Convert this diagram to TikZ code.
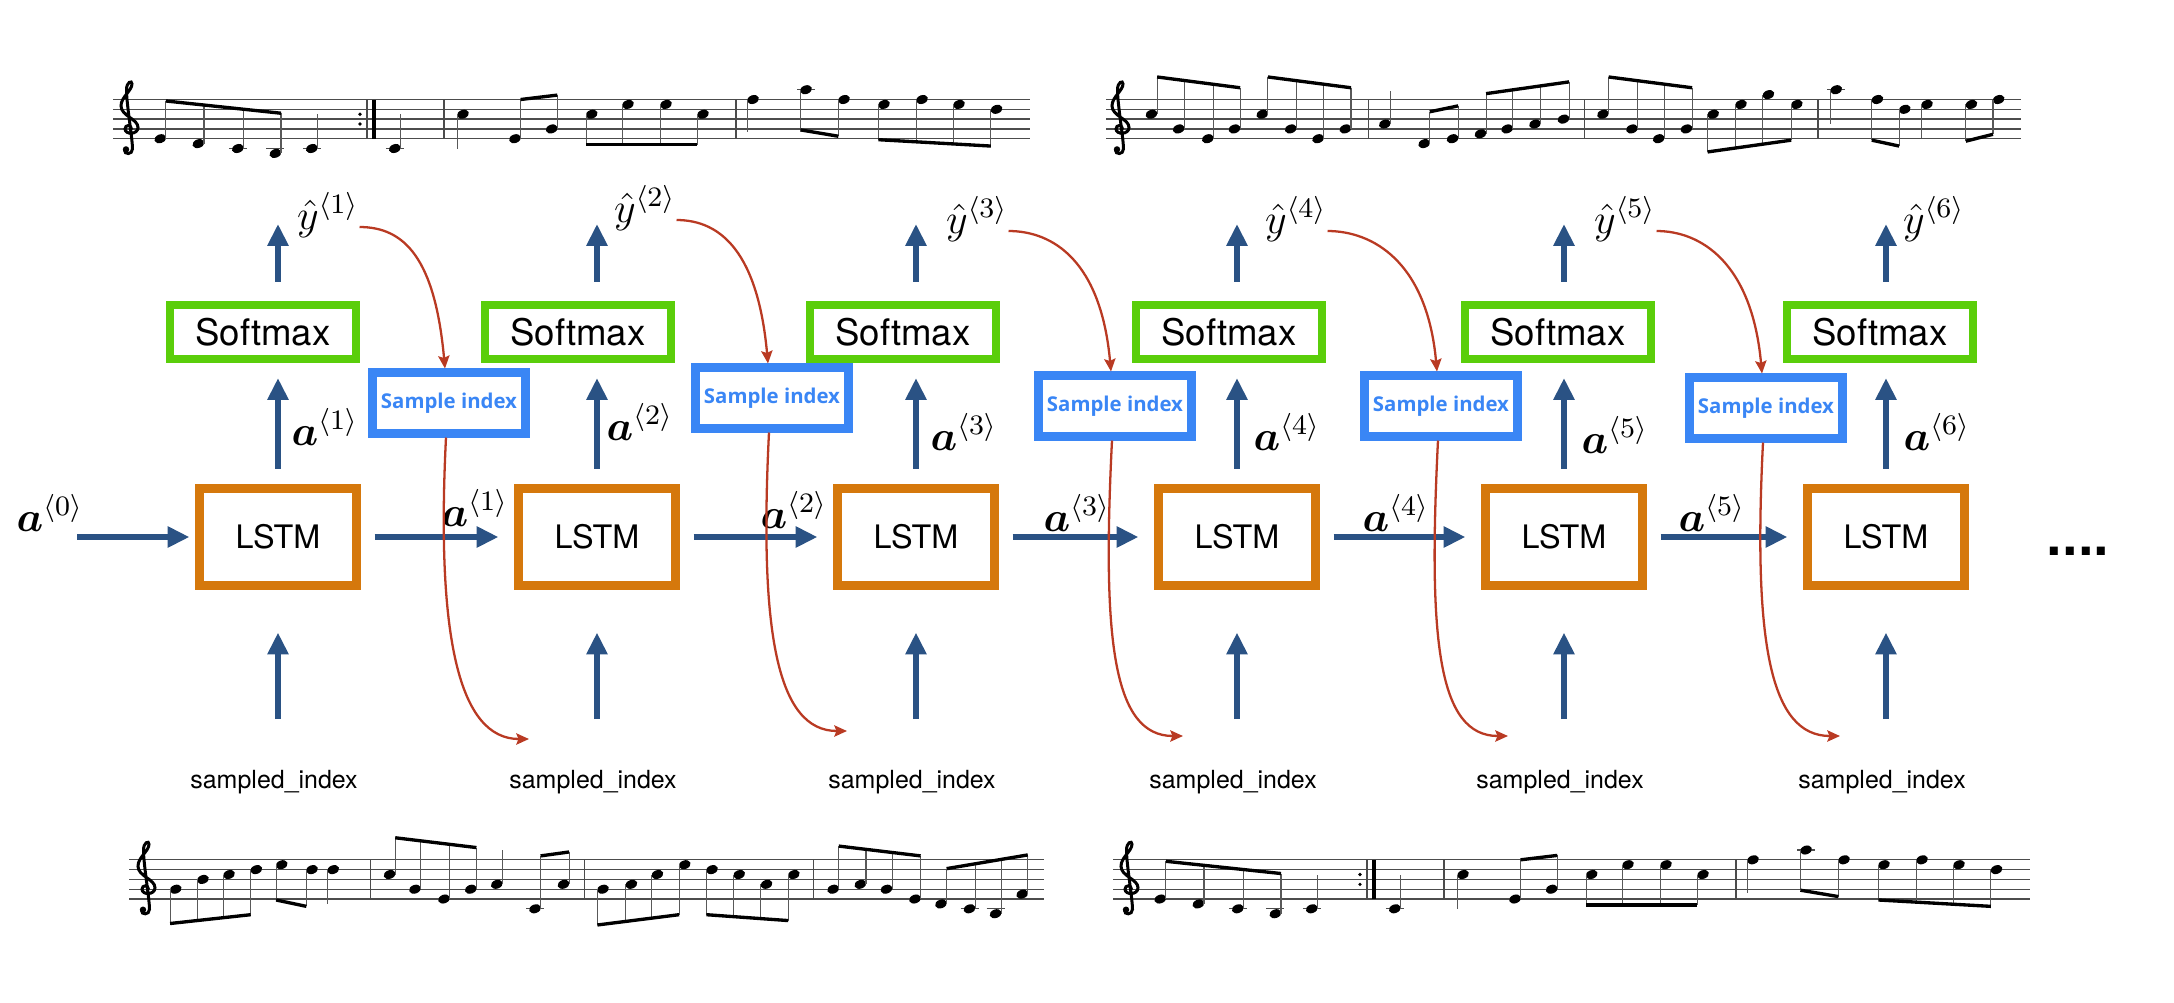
\documentclass[tikz,border=0pt]{standalone}
\usepackage{amsmath}
\usepackage{fontspec}
\setmainfont{TeX Gyre Heros}
\newfontfamily\samplefont{Open Sans}
\newfontfamily\dotsfont{Liberation Sans}
\usetikzlibrary{calc, arrows.meta, positioning}

\DeclareMathSizes{12.5}{12.5}{7.8}{6}

\definecolor{lstmorange}{RGB}{213,120,12}
\definecolor{softgreen}{RGB}{90,206,10}
\definecolor{sampleblue}{RGB}{58,134,245}
\definecolor{arrowblue}{RGB}{42,82,132}
\definecolor{sampred}{RGB}{185,58,35}

% --- little music helpers (local units: px, pitch 0 = bottom line) ---
\newcommand{\stafflines}[1]{\foreach \k in {0,...,4} \draw[staffln] (0,-9.8*\k) -- (#1,-9.8*\k);}
\newcommand{\barln}[1]{\draw[staffln] (#1,0) -- (#1,-39.2);}
\newcommand{\ledg}[2]{\pgfmathsetmacro\ly{-4.9*(#2)}\draw[staffln] (#1-9,\ly) -- (#1+9,\ly);}
\newcommand{\nhead}[2]{%
  \pgfmathsetmacro\hy{-4.9*(#2)}%
  \fill[rotate around={20:(#1,\hy)}] (#1,\hy) ellipse (0.061cm and 0.043cm);}
\newcommand{\qup}[3]{\nhead{#1}{#2}\pgfmathsetmacro\sy{-4.9*(#3)}\draw[stemln] (#1+5.6,\hy) -- (#1+5.6,\sy);}
\newcommand{\qdn}[3]{\nhead{#1}{#2}\pgfmathsetmacro\sy{-4.9*(#3)}\draw[stemln] (#1-5.6,\hy) -- (#1-5.6,\sy);}
\newcommand{\beamup}[5]{%
  \foreach \nx/\np in {#5} {%
    \pgfmathsetmacro\sy{-4.9*((#2)+((#4)-(#2))*(\nx-(#1))/((#3)-(#1)))}%
    \nhead{\nx}{\np}%
    \draw[stemln] (\nx+5.6,\hy) -- (\nx+5.6,\sy);
  }%
  \pgfmathsetmacro\bya{-4.9*(#2)}\pgfmathsetmacro\byb{-4.9*(#4)}%
  \draw[beamln] (#1+5.6,\bya) -- (#3+5.6,\byb);}
\newcommand{\beamdn}[5]{%
  \foreach \nx/\np in {#5} {%
    \pgfmathsetmacro\sy{-4.9*((#2)+((#4)-(#2))*(\nx-(#1))/((#3)-(#1)))}%
    \nhead{\nx}{\np}%
    \draw[stemln] (\nx-5.6,\hy) -- (\nx-5.6,\sy);
  }%
  \pgfmathsetmacro\bya{-4.9*(#2)}\pgfmathsetmacro\byb{-4.9*(#4)}%
  \draw[beamln] (#1-5.6,\bya) -- (#3-5.6,\byb);}
\newcommand{\gclef}[1]{%
  \begin{scope}[shift={(#1,-9.8)}, x=0.1cm, y=0.1cm, line width=0.85pt, line cap=round]
    \draw (0.15,0) .. controls (0.15,0.45) and (-0.5,0.45) .. (-0.5,0)
      .. controls (-0.5,-0.6) and (0.8,-0.6) .. (0.8,0.15)
      .. controls (0.8,1.0) and (-0.9,1.3) .. (-0.9,2.3)
      .. controls (-0.9,3.2) and (0.2,3.8) .. (0.2,4.5)
      .. controls (0.2,4.9) and (-0.35,4.7) .. (-0.35,3.9)
      .. controls (-0.35,2.5) and (0.25,-1.0) .. (0.25,-2.0)
      .. controls (0.25,-2.6) and (-0.6,-2.6) .. (-0.55,-2.1);
    \fill (-0.4,-2.05) circle (0.32);
  \end{scope}}

% tune used on the top left and bottom right
\newcommand{\tuneA}{%
  \stafflines{917}
  \gclef{17}
  \ledg{124.8}{-2}\ledg{162.4}{-2}
  \beamup{47.3}{7.7}{162.4}{5.2}{47.3/0, 85.4/-1, 124.8/-2, 162.4/-3}
  \ledg{198.8}{-2}\qup{198.8}{-2}{5}
  % repeat sign
  \fill (247,-14.7) circle (0.018cm);
  \fill (247,-24.5) circle (0.018cm);
  \barln{254}
  \draw[line width=0.9pt] (261,0) -- (261,-39.2);
  \ledg{281.8}{-2}\qup{281.8}{-2}{5}
  \barln{331}
  \qdn{350}{5}{-2}
  \beamup{402}{8}{438.7}{8.9}{402/0, 438.7/2}
  \beamdn{478.7}{-1.2}{590}{-1.2}{478.7/5, 515/7, 553/7, 590/5}
  \barln{623}
  \qdn{640}{8}{1.3}
  \ledg{693}{10}
  \beamdn{693}{1.8}{731}{0.5}{693/10, 731/8}
  \beamdn{771}{-0.2}{883.5}{-1.5}{771/7, 809/8, 846/7, 883.5/6}
}
% tune on the top right
\newcommand{\tuneB}{%
  \stafflines{915}
  \gclef{15}
  \beamup{45.5}{12.6}{128.5}{10.4}{45.5/5, 72.7/2, 101.8/0, 128.5/2}
  \beamup{156.3}{12.6}{239.4}{10.4}{156.3/5, 184.8/2, 212.1/0, 239.4/2}
  \barln{262.4}
  \qup{278.8}{3}{9.8}
  \beamup{318.2}{5.5}{346.6}{6.7}{318.2/-1, 346.6/0}
  \beamup{374.5}{9.2}{457.5}{11.6}{374.5/1, 401.2/2, 429/3, 457.5/4}
  \barln{478.7}
  \beamup{497}{12.6}{580.5}{10.4}{497/5, 526/2, 552.7/0, 580.5/2}
  \beamdn{607.2}{-2.7}{690.8}{-0.3}{607.2/5, 635/7, 662.4/9, 690.8/7}
  \barln{712}
  \ledg{730.2}{10}\qdn{730.2}{10}{3.1}
  \beamdn{771.4}{-0.3}{798.7}{-1.5}{771.4/8, 798.7/6}
  \qdn{821}{7}{0.2}
  \beamdn{865.4}{-0.5}{892.6}{0.9}{865.4/7, 892.6/8}
}
% tune on the bottom left
\newcommand{\tuneC}{%
  \stafflines{915}
  \gclef{18}
  \beamdn{46.7}{-5}{127.3}{-3.2}{46.7/2, 73.9/4, 100/5, 127.3/6}
  \beamdn{152.7}{-0.2}{183}{-1.5}{152.7/7, 183/6}
  \qdn{204.2}{6}{-1}
  \barln{241.8}
  \beamup{260.6}{12.5}{341.8}{10.5}{260.6/5, 286/2, 315/0, 341.8/2}
  \qup{367.8}{3}{10}
  \ledg{406}{-2}
  \beamup{406}{8.8}{434.5}{9.6}{406/-2, 434.5/3}
  \barln{455.7}
  \beamdn{474}{-5.3}{555.7}{-3.2}{474/2, 502.4/3, 528.4/5, 555.7/7}
  \beamdn{583}{-3.2}{664.8}{-4.4}{583/6, 610.2/5, 637.5/3, 664.8/5}
  \barln{684.8}
  \beamup{704.2}{10.8}{786}{8.8}{704.2/2, 731.4/3, 757.5/2, 786/0}
  \ledg{840.5}{-2}\ledg{866.6}{-2}
  \beamup{812}{6.2}{893.2}{9}{812/-1, 840.5/-2, 866.6/-3, 893.2/1}
}

\begin{document}
\begin{tikzpicture}[x=0.01cm, y=-0.01cm]
    % Styles
    \tikzset{
      lstmbox/.style={draw=lstmorange, line width=2.56pt, minimum width=1.56cm, minimum height=0.96cm, inner sep=0, font=\fontsize{9.2}{11}\selectfont},
      softbox/.style={draw=softgreen, line width=2.28pt, minimum width=1.85cm, minimum height=0.54cm, inner sep=0, font=\fontsize{10.4}{12}\selectfont},
      smpbox/.style={draw=sampleblue, line width=2.56pt, minimum width=1.53cm, minimum height=0.60cm, inner sep=0, text=sampleblue, font=\samplefont\bfseries\fontsize{5.8}{7}\selectfont},
      mathlbl/.style={inner sep=0, font=\fontsize{12.5}{15}\selectfont},
      idxlbl/.style={inner sep=0, font=\fontsize{7.1}{9}\selectfont},
      barrow/.style={draw=arrowblue, line width=1.6pt, -{Triangle[length=6.2pt, width=5.7pt]}},
      rarrow/.style={draw=sampred, line width=0.65pt, -{Stealth[length=3.6pt, width=3.2pt, inset=0.6pt]}},
      staffln/.style={line width=0.35pt, draw=black!70},
      stemln/.style={line width=0.3pt, draw=black!65},
      beamln/.style={line width=0.95pt, draw=black}
    }
    \useasboundingbox (0,0) rectangle (2174,1002);

    % MUSIC STAVES
    \begin{scope}[shift={(113,138.7)}] \tuneA \end{scope}
    \begin{scope}[shift={(1106,138.7)}] \tuneB \end{scope}
    \begin{scope}[shift={(129,899)}] \tuneC \end{scope}
    \begin{scope}[shift={(1113,899)}] \tuneA \end{scope}

    % COLUMNS: LSTM, Softmax, outputs, inputs
    \foreach \i/\cx/\sx/\yx/\yy/\ax/\ay in {1/278/263/328/215/325/427, 2/597/578/645/208/640/422,
        3/916/903/977/219/964/432, 4/1237/1229/1296/219/1287/432,
        5/1564/1558/1625/219/1615/435, 6/1886/1880/1934/219/1937/432} {
        \node[lstmbox] (lstm\i) at (\cx,537) {LSTM};
        \node[softbox] (soft\i) at (\sx,332) {Softmax};
        \node[mathlbl] (yhat\i) at (\yx,\yy) {$\hat{y}^{\langle \i \rangle}$};
        \node[mathlbl] (aup\i) at (\ax,\ay) {$\boldsymbol{a}^{\langle \i \rangle}$};
        \node[idxlbl] (sidx\i) at (\cx-4,782) {sampled\_index};
        \coordinate (yout\i) at (\cx,224);
        \coordinate (xin\i) at (\cx,719);
        \draw[barrow, shorten <=0.155cm, shorten >=0.15cm] (lstm\i.north) -- (lstm\i.north |- soft\i.south);
        \draw[barrow, shorten <=0.19cm] (lstm\i.north |- soft\i.north) -- (yout\i);
        \draw[barrow, shorten >=0.43cm] (xin\i) -- (lstm\i.south);
    }

    % HIDDEN STATE CHAIN
    \node[mathlbl] (a0) at (50,513) {$\boldsymbol{a}^{\langle 0 \rangle}$};
    \coordinate (a0start) at (77,537);
    \draw[barrow, shorten >=0.06cm] (a0start) -- (lstm1.west);
    \foreach \i/\j/\lx/\ly in {1/2/475/508, 2/3/794/510, 3/4/1077/513, 4/5/1396/513, 5/6/1712/513} {
        \draw[barrow, shorten <=0.14cm, shorten >=0.16cm] (lstm\i.east) -- (lstm\j.west);
        \node[mathlbl] (ah\i) at (\lx,\ly) {$\boldsymbol{a}^{\langle \i \rangle}$};
    }

    % SAMPLING LOOPS
    \foreach \i/\bx/\by/\ex/\ey in {1/449/403/529/739, 2/772/398/847/731, 3/1115/406/1183/736,
        4/1441/406/1508/736, 5/1766/408/1840/736} {
        \node[smpbox] (smp\i) at (\bx,\by) {Sample index};
        \coordinate (rend\i) at (\ex,\ey);
        \draw[rarrow] ([yshift=-0.12cm]yhat\i.east) .. controls +(45,0) and +(-10,-110) .. ([xshift=-0.04cm]smp\i.north);
        \draw[rarrow] ([xshift=-0.03cm]smp\i.south) .. controls +(-10,200) and +(-70,0) .. (rend\i);
    }

    % continuation
    \node[font=\dotsfont\bfseries\fontsize{16}{18}\selectfont, anchor=base] (more) at (2078,555) {....};

\end{tikzpicture}
\end{document}
